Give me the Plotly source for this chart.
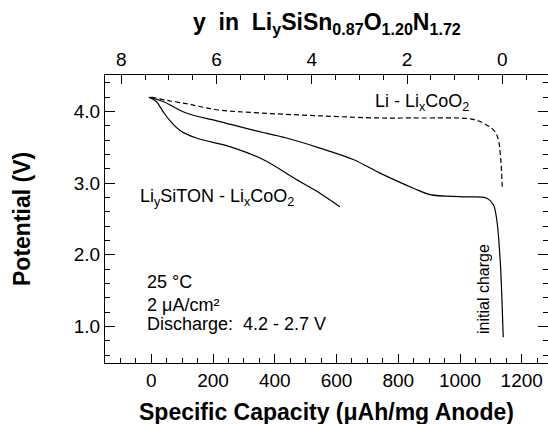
import plotly.graph_objects as go

# ---- data ----
# Li - LixCoO2 reference curve (dashed)
li_cap = [0, 59, 113, 157, 222, 352, 546, 741, 870, 1043, 1087, 1113, 1124, 1132, 1137]
li_v = [4.20, 4.15, 4.11, 4.07, 4.02, 3.98, 3.94, 3.91, 3.91, 3.89, 3.81, 3.72, 3.61, 3.33, 2.91]

# initial charge curve (solid, long)
charge_cap = [-8, 38, 113, 222, 330, 438, 546, 654, 741, 849, 903, 1011, 1087, 1108, 1119, 1130, 1135, 1140]
charge_v = [4.20, 4.14, 3.98, 3.86, 3.74, 3.63, 3.49, 3.33, 3.14, 2.93, 2.84, 2.81, 2.79, 2.70, 2.49, 1.93, 1.47, 0.85]

# LiySiTON - LixCoO2 discharge (solid, short)
dis_cap = [-8, 16, 38, 59, 92, 146, 254, 362, 470, 546, 611]
dis_v = [4.20, 4.14, 4.00, 3.88, 3.74, 3.63, 3.51, 3.33, 3.05, 2.86, 2.67]

# axis settings
x_dtick, x_minor = 200, 50
y_dtick, y_minor = 1.0, 0.2
top_dtick, top_minor = 2, 0.5
cap_at_y0 = 1137.0      # capacity where y = 0
cap_per_li = 154.3      # capacity per Li
x_range = [-150, 1285]
y_range = [0.49, 4.51]
top_range = [(cap_at_y0 - x_range[0]) / cap_per_li, (cap_at_y0 - x_range[1]) / cap_per_li]

FONT = "Liberation Sans, Arial, Helvetica, sans-serif"
line_style = dict(color="black", width=1.2)

fig = go.Figure()
fig.add_trace(go.Scatter(x=li_cap, y=li_v, mode="lines", line=dict(color="black", width=1.2, dash="5px,3px"),
                         line_shape="spline", hoverinfo="skip", showlegend=False))
fig.add_trace(go.Scatter(x=charge_cap, y=charge_v, mode="lines", line=line_style,
                         line_shape="spline", hoverinfo="skip", showlegend=False))
fig.add_trace(go.Scatter(x=dis_cap, y=dis_v, mode="lines", line=line_style,
                         line_shape="spline", hoverinfo="skip", showlegend=False))
# invisible helper so the top axis is created
fig.add_trace(go.Scatter(x=[8, 0], y=[None, None], xaxis="x2", mode="lines",
                         hoverinfo="skip", showlegend=False))

tickfont = dict(family=FONT, size=19, color="black")
titlefont = dict(family=FONT, size=23, color="black")
TW = 1.2

fig.update_layout(
    width=548, height=424,
    margin=dict(l=105, r=0, t=75, b=61),
    paper_bgcolor="white", plot_bgcolor="white",
    font=dict(family=FONT, color="black"),
    xaxis=dict(
        range=x_range, tickmode="linear", tick0=0, dtick=x_dtick,
        ticks="inside", ticklen=9, tickwidth=TW, tickcolor="#000000",
        minor=dict(ticks="inside", ticklen=5, tickwidth=TW, dtick=x_minor, tick0=0, tickcolor="#000000"),
        showline=True, linecolor="black", linewidth=1.2,
        showgrid=False, zeroline=False, tickfont=tickfont,
    ),
    xaxis2=dict(
        overlaying="x", side="top", anchor="y",
        range=top_range, tickmode="linear", tick0=0, dtick=top_dtick,
        ticks="inside", ticklen=9, tickwidth=TW, tickcolor="#000000",
        minor=dict(ticks="inside", ticklen=5, tickwidth=TW, dtick=top_minor, tick0=0, tickcolor="#000000"),
        showline=True, linecolor="black", linewidth=1.2,
        showgrid=False, zeroline=False, tickfont=tickfont,
    ),
    yaxis=dict(
        range=y_range, tickmode="linear", tick0=0, dtick=y_dtick, tickformat=".1f",
        ticks="inside", ticklen=10, tickwidth=TW, tickcolor="#000000",
        minor=dict(ticks="inside", ticklen=5, tickwidth=TW, dtick=y_minor, tick0=0, tickcolor="#000000"),
        showline=True, linecolor="black", linewidth=1.2, mirror="ticks",
        showgrid=False, zeroline=False, tickfont=tickfont,
    ),
)

# axis titles as paper annotations
fig.add_annotation(xref="paper", yref="paper", x=0.5, y=1, yshift=52, showarrow=False,
                   text="<b>y\u00a0\u00a0in\u00a0\u00a0Li<sub>y</sub>SiSn<sub>0.87</sub>O<sub>1.20</sub>N<sub>1.72</sub></b>",
                   font=titlefont, xanchor="center", yanchor="middle")
fig.add_annotation(xref="paper", yref="paper", x=0.5, y=0, yshift=-49, showarrow=False,
                   text="<b>Specific Capacity (μAh/mg Anode)</b>",
                   font=titlefont, xanchor="center", yanchor="middle")
fig.add_annotation(xref="paper", yref="paper", x=0, y=0.5, xshift=-83, showarrow=False, textangle=-90,
                   text="<b>Potential (V)</b>", font=titlefont, xanchor="center", yanchor="middle")

ann_font = dict(family=FONT, size=18, color="black")
anns = [
    dict(x=718, y=4.12, text="Li - Li<sub>x</sub>CoO<sub>2</sub>", xanchor="left", yanchor="middle"),
    dict(x=-44, y=2.80, text="Li<sub>y</sub>SiTON - Li<sub>x</sub>CoO<sub>2</sub>", xanchor="left", yanchor="middle"),
    dict(x=-22, y=1.625, text="25 °C", xanchor="left", yanchor="middle"),
    dict(x=-22, y=1.30, text="2 μA/cm²", xanchor="left", yanchor="middle"),
    dict(x=-22, y=1.04, text="Discharge:\u00a0\u00a04.2 - 2.7 V", xanchor="left", yanchor="middle"),
]
for a in anns:
    fig.add_annotation(xref="x", yref="y", showarrow=False, font=ann_font, **a)
fig.add_annotation(xref="x", yref="y", x=1076, y=1.53, text="initial charge", textangle=-90,
                   showarrow=False, font=dict(family=FONT, size=16, color="black"),
                   xanchor="center", yanchor="middle")

fig.write_html("out.html")
